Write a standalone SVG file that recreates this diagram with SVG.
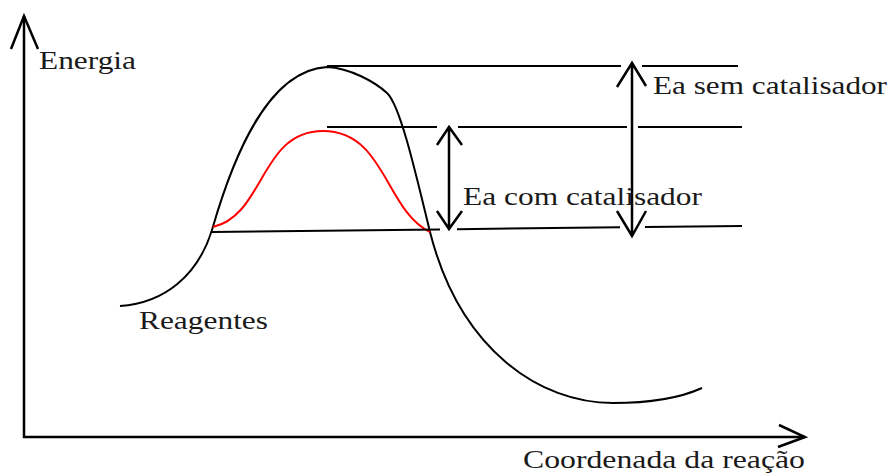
<svg xmlns="http://www.w3.org/2000/svg" width="893" height="473" viewBox="0 0 893 473">
<style>
.ln{stroke:#000;stroke-width:2;fill:none;stroke-linecap:butt}
.ar{stroke:#000;stroke-width:2.5;fill:none;stroke-linejoin:miter}
.crv{stroke:#000;stroke-width:2;fill:none}
.red{stroke:#ff0000;stroke-width:2;fill:none}
.t{font-family:"Liberation Serif","Times New Roman",serif;font-size:26px;fill:#1a1a1a}
</style>
<rect width="893" height="473" fill="#fff"/>
<g id="axes">
<path class="ar" d="M24,16 V437 H805"/>
<path class="ar" d="M11,49 L24,16 L38,49"/>
<path class="ar" d="M779,425 L805,437 L778,447"/>
</g>
<g id="curves">
<path id="uncatalysed" class="crv" d="M120,306 C165,303 198,275 212,230 C235,150 270,70 327,67 C350,68 375,82 387,93 C400,105 415,170 430,232 C460,350 540,403 613,403 C650,403 680,398 702,388"/>
<path id="catalysed" class="red" d="M213,227 C265,215 260,131 323,131 C385,131 385,210 430,232"/>
</g>
<g id="connectors">
<path class="ln" d="M327,66 H621 M642,66 H738"/>
<path class="ln" d="M327,127 H437 M458,127 H627 M638,127 H742"/>
<path class="ln" d="M212,232 L440,229.4 M457,229.2 L620,227.3 M645,227 L742,226"/>
<path class="ar" d="M449,128 V229 M437,145 L449,127 L462,145 M437,211 L449,229 L462,211"/>
<path class="ar" d="M632,64 V235 M617,87 L632,63 L646,86 M617,211 L632,236 L646,211"/>
</g>
<g id="labels">
<text class="t" x="39" y="69" textLength="97" lengthAdjust="spacingAndGlyphs">Energia</text>
<text class="t" x="653" y="94" textLength="234" lengthAdjust="spacingAndGlyphs">Ea sem catalisador</text>
<text class="t" x="463" y="205" textLength="239" lengthAdjust="spacingAndGlyphs">Ea com catalisador</text>
<text class="t" x="139" y="329" textLength="129" lengthAdjust="spacingAndGlyphs">Reagentes</text>
<text class="t" x="523" y="468" textLength="282" lengthAdjust="spacingAndGlyphs">Coordenada da reação</text>
</g>
</svg>
